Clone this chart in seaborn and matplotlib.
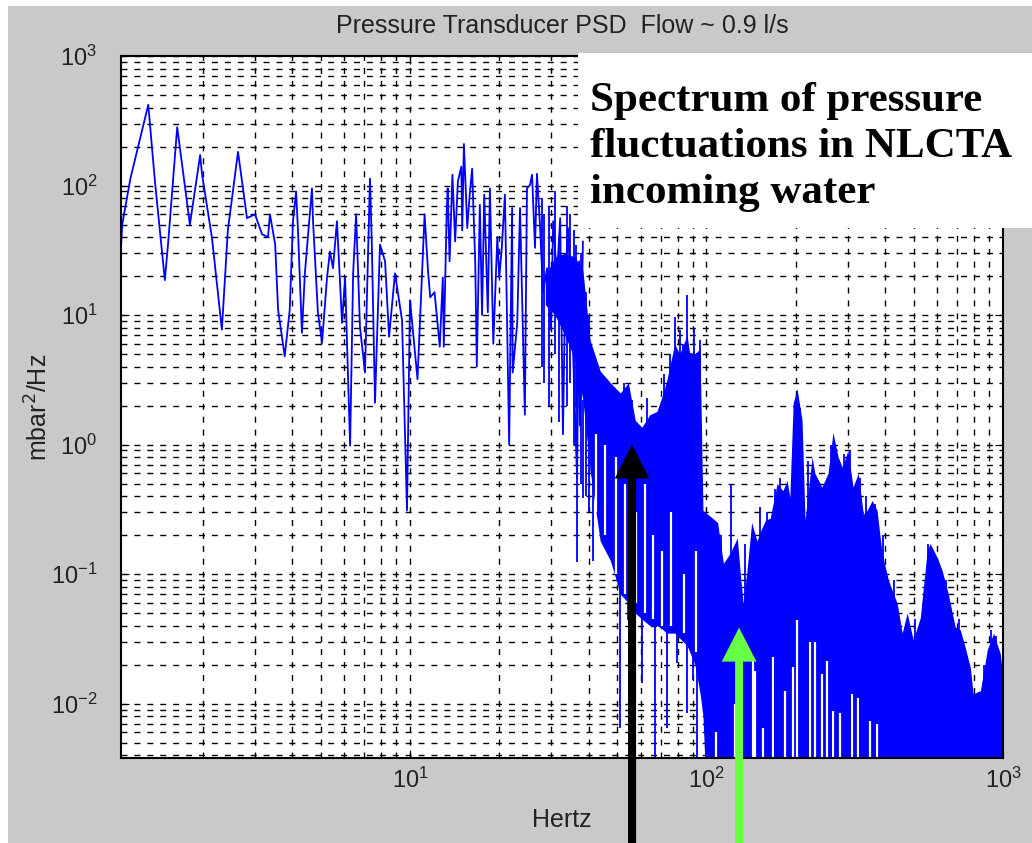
import numpy as np
import pandas as pd
import matplotlib
matplotlib.use("Agg")
import matplotlib.pyplot as plt
import seaborn as sns
from matplotlib.patches import Rectangle
from matplotlib import ticker

# ---------------- data ----------------
# low-frequency part of the spectrum, drawn as a line
line_freq = [1.06, 1.07, 1.14, 1.31, 1.38, 1.49, 1.53, 1.64, 1.74, 1.81,
             1.96, 1.99, 2.15, 2.32, 2.43, 2.63, 2.82, 3.00, 3.17, 3.32,
             3.37, 3.51, 3.59, 3.78, 3.93, 4.03, 4.13, 4.19, 4.32, 4.42,
             4.67, 4.71, 4.89, 5.05, 5.25, 5.37, 5.50, 5.67, 5.90, 6.04,
             6.28, 6.43, 6.58, 6.78, 7.05, 7.33, 7.44, 7.62, 7.92, 8.24,
             8.50, 8.90, 9.40, 9.77, 10.0, 10.6, 11.2, 11.5, 11.7, 12.1,
             12.6, 12.9, 13.0, 13.3, 13.4, 13.6, 13.9, 14.2, 14.5, 14.9,
             15.0, 15.2, 15.6, 15.9, 16.2, 16.6, 16.8, 17.2, 17.5, 17.8,
             18.3, 18.6, 19.1, 19.7, 20.0, 20.4, 20.9, 21.6, 22.1, 22.2,
             23.0, 23.5, 24.4, 24.8, 25.4, 25.8, 26.4, 26.8, 27.4, 28.1,
             29.0, 29.9, 30.4, 31.3, 32.1, 32.8, 33.3, 34.1, 35.2, 36.6,
             37.2, 37.4, 38.3]
line_psd = [33, 50, 113, 420, 107, 18.6, 37, 282, 100, 50,
            172, 121, 39, 7.7, 45, 182, 56, 60, 42, 40,
            60, 35, 11, 4.8, 11, 53, 90, 45, 7.3, 21,
            95, 53, 10.5, 6.1, 19.5, 31, 23, 53, 8.7, 19.5,
            0.98, 21, 60, 8.1, 3.6, 113, 33, 2.1, 35, 26,
            6.8, 21, 9.1, 0.31, 13, 3.2, 60, 22, 13.7, 15,
            5.7, 19.5, 5.7, 63, 95, 26, 121, 37, 107, 140,
            45, 209, 47, 85, 135, 25, 4.0, 71, 10, 85,
            10.5, 95, 6, 40, 19.5, 33, 85, 1.0, 67, 3.6,
            8.7, 67, 1.7, 95, 101, 121, 33, 123, 53, 15,
            23, 7.7, 53, 19.5, 56, 1.2, 11.5, 47, 9.1, 0.55,
            26, 1.4, 37]

# dense part of the spectrum: upper / lower envelope
FLOOR = 1e-3
band_freq = [28.6, 30.8, 33.3, 36.0, 38.3, 40.5, 43.8, 47.4, 51.2, 54.5,
             57.5, 60.5, 64.4, 68.0, 70.6, 73.4, 78.1, 81.2, 86.0, 87.8,
             91.4, 95.1, 97.3, 101, 109, 114, 120, 127, 130, 133,
             137, 142, 148, 151, 158, 164, 173, 181, 187, 191,
             196, 202, 210, 215, 227, 232, 245, 257, 267, 278,
             287, 300, 312, 325, 338, 348, 362, 376, 391, 411,
             440, 457, 475, 498, 526, 555, 568, 600, 623, 653,
             690, 718, 746, 776, 793, 839, 885, 929, 979, 1000]
band_upper = [20, 28, 30, 28, 22, 6.4, 3.7, 3.0, 2.5, 3.0,
              1.54, 1.36, 1.7, 1.8, 2.3, 3.1, 6.0, 5.0, 7.0, 5.0,
              5.0, 5.5, 0.31, 0.29, 0.25, 0.121, 0.144, 0.19, 0.101, 0.059,
              0.107, 0.25, 0.18, 0.206, 0.26, 0.27, 0.50, 0.44, 0.53, 0.39,
              2.08, 2.7, 1.54, 0.26, 0.80, 0.60, 0.47, 0.60, 1.24, 0.80,
              0.67, 0.90, 0.47, 0.60, 0.29, 0.31, 0.37, 0.31, 0.144, 0.089,
              0.059, 0.035, 0.050, 0.031, 0.046, 0.152, 0.172, 0.134, 0.107, 0.071,
              0.039, 0.037, 0.027, 0.019, 0.0119, 0.0126, 0.026, 0.035, 0.0243, 0.0159]
band_lower = [12, 10, 7, 4.5, 2.2, 0.63, 0.18, 0.127, 0.07, 0.06,
              0.05, 0.045, 0.04, 0.04, 0.038, 0.035, 0.035, 0.032, 0.028, 0.025,
              0.02, 0.012, 0.008] + [FLOOR] * 57

# isolated thin spikes (blue)
spike_freq = [27.8, 28.4, 29.5, 30.8, 31.8, 33.8, 34.7, 35.6, 36.3, 37.8, 39.2, 40.0,
              36.6, 38.3, 41.4, 48.0, 51.2, 54.5, 60.5, 67.0, 73.4, 79.4, 86.0, 89.8, 92.7,
              44.5, 47.4, 52.5, 56.0, 63.0, 72.0, 75.5, 78.1, 81.2, 83.5, 86.0, 88.5, 90.5,
              93.0, 95.1,
              112, 120.5, 135, 152, 160, 170, 177, 206, 220, 262, 292, 305, 330, 345,
              370, 395, 430, 505, 560, 575, 640, 710, 860, 910, 950]
spike_low = [4, 3, 2, 5, 1.5, 2, 3, 1, 2, 0.5, 0.4, 0.3,
             0.123, 0.39, 0.127, 0.152, 0.0065, 0.044, 0.0143, 0.001, 0.0065, 0.0204,
             0.0084, 0.0151, 0.001,
             1, 1, 0.5, 0.5, 0.5, 1, 1, 1, 1, 1, 1, 1, 1, 1, 1,
             FLOOR, FLOOR, FLOOR, FLOOR, FLOOR, FLOOR, FLOOR, FLOOR, FLOOR, FLOOR,
             FLOOR, FLOOR, FLOOR, FLOOR, FLOOR, FLOOR, FLOOR, FLOOR, FLOOR, FLOOR,
             FLOOR, FLOOR, FLOOR, FLOOR, FLOOR]
spike_high = [80, 60, 70, 90, 40, 70, 60, 45, 35, 30, 15, 10,
              4.5, 2.2, 1.0, 0.5, 0.1, 0.2, 0.05, 0.05, 0.04, 0.04, 0.03, 0.03, 0.02,
              3.5, 3.0, 3.0, 2.2, 2.3, 3.5, 5.0, 9.6, 7.6, 6.0, 14.2, 5.1, 8.0, 5.1, 6.4,
              0.2, 0.5, 0.17, 0.33, 0.3, 0.45, 0.55, 1.9, 0.75, 1.0, 0.85, 0.9, 0.55, 0.4,
              0.35, 0.2, 0.09, 0.045, 0.17, 0.16, 0.09, 0.045, 0.02, 0.037, 0.033]

# narrow dips inside / below the dense band (white)
white_freq = [42.5, 45.5, 49.5, 53, 58, 62, 66, 71, 76, 84, 92,
              108, 124.8, 143.6, 146, 155, 167.5, 184, 196, 202.6, 223,
              232, 245, 255, 268, 282, 310, 325, 356, 376]
white_low = [0.3, 0.2, 0.1, 0.07, 0.06, 0.05, 0.045, 0.04, 0.04, 0.035, 0.025,
             FLOOR, FLOOR, FLOOR, FLOOR, FLOOR, FLOOR, FLOOR, FLOOR, FLOOR, FLOOR,
             FLOOR, FLOOR, FLOOR, FLOOR, FLOOR, FLOOR, FLOOR, FLOOR, FLOOR]
white_high = [1.2, 1.0, 0.8, 0.5, 0.3, 0.5, 0.2, 0.15, 0.3, 0.1, 0.15,
              0.006, 0.0100, 0.0227, 0.018, 0.0065, 0.0227, 0.0126, 0.019, 0.044, 0.030,
              0.030, 0.017, 0.0215, 0.0088, 0.0084, 0.0119, 0.0111, 0.0074, 0.0070]

title = "Pressure Transducer PSD  Flow ~ 0.9 l/s"
xlabel = "Hertz"
ylabel = "mbar$^2$/Hz"
note = "Spectrum of pressure\nfluctuations in NLCTA\nincoming water"
arrow_black_freq, arrow_black_psd = 56.1, 1.0
arrow_green_freq, arrow_green_psd = 128.8, 0.0386

# ---------------- style ----------------
sns.set_style("white")
plt.rcParams["font.family"] = ["Liberation Sans", "DejaVu Sans"]
W, H = 1032, 843
fig = plt.figure(figsize=(W / 100, H / 100), dpi=100, facecolor="#c9c9c9")
ax = fig.add_axes([121 / W, 1 - 758 / H, (1003 - 121) / W, (758 - 56) / H])
ax.set_facecolor("white")
ax.set_xscale("log")
ax.set_yscale("log")
ax.set_xlim(1.06, 1000)
ax.set_ylim(3.8e-3, 1000)

blue = "#0000ff"
ax.fill_between(band_freq, band_lower, band_upper, color=blue, lw=0, zorder=2)
ax.vlines(white_freq, white_low, white_high, color="white", lw=1.6, zorder=2.1)
ax.vlines(spike_freq, spike_low, spike_high, color=blue, lw=1.3, zorder=2.3)
df = pd.DataFrame({"f": line_freq, "p": line_psd})
sns.lineplot(data=df, x="f", y="p", ax=ax, color=blue, lw=1.3,
             estimator=None, sort=False, zorder=2.4)

ax.set_axisbelow(True)
ax.grid(True, which="both", color="black", linestyle=(0, (4.3, 5.0)), linewidth=1.0)
for s in ax.spines.values():
    s.set_color("black")
    s.set_linewidth(1.5)
ax.xaxis.set_minor_formatter(ticker.NullFormatter())
ax.yaxis.set_minor_formatter(ticker.NullFormatter())
ax.tick_params(which="both", direction="in", top=True, right=True, bottom=True, left=True,
               color="black", labelcolor="#222222", labelsize=17)
ax.tick_params(which="major", length=6)
ax.tick_params(which="minor", length=3)
ax.tick_params(axis="x", which="major", pad=7)
ax.tick_params(axis="y", which="major", pad=17)

ax.set_title(title, fontsize=18, pad=16.5, color="#222222")
ax.set_xlabel(xlabel, fontsize=18, labelpad=11, color="#222222")
ax.set_ylabel(ylabel, fontsize=18, color="#222222")
ax.yaxis.set_label_coords(-0.078, 0.5)

# arrows
ax.annotate("", xy=(arrow_black_freq, arrow_black_psd), xycoords="data",
            xytext=(arrow_black_freq, 0.0), textcoords=("data", "figure fraction"),
            arrowprops=dict(facecolor="black", edgecolor="none", width=5.8,
                            headwidth=25, headlength=24.5, shrink=0.0),
            annotation_clip=False, zorder=6)
ax.annotate("", xy=(arrow_green_freq, arrow_green_psd), xycoords="data",
            xytext=(arrow_green_freq, 0.0), textcoords=("data", "figure fraction"),
            arrowprops=dict(facecolor="#66ff44", edgecolor="none", width=5.8,
                            headwidth=25, headlength=24.5, shrink=0.0),
            annotation_clip=False, zorder=6)

# white note box
fig.add_artist(Rectangle((578 / W, 1 - 228 / H), 1 - 578 / W, (228 - 53) / H,
                         transform=fig.transFigure, facecolor="white",
                         edgecolor="none", zorder=3))
fig.text(590 / W, 1 - 82 / H, note, family=["Liberation Serif", "DejaVu Serif"],
         weight="bold", fontsize=31, va="top", ha="left", linespacing=1.27,
         color="black", zorder=4)
# thin white outer border (left and top)
fig.add_artist(Rectangle((0, 0), 8 / W, 1, transform=fig.transFigure,
                         facecolor="white", edgecolor="none", zorder=5))
fig.add_artist(Rectangle((0, 1 - 6 / H), 1, 6 / H, transform=fig.transFigure,
                         facecolor="white", edgecolor="none", zorder=5))

fig.savefig("out.png", dpi=100, facecolor=fig.get_facecolor())
